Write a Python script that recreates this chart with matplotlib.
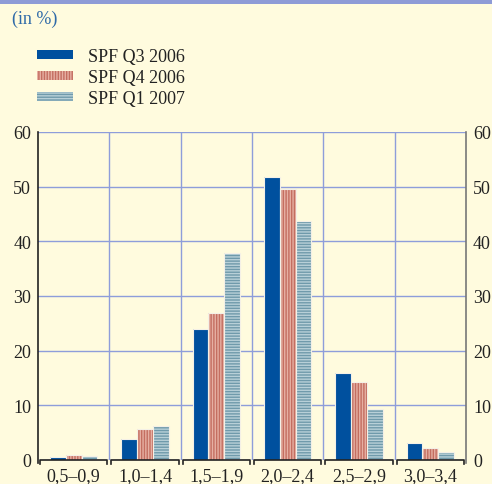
import matplotlib.pyplot as plt
import numpy as np
from matplotlib.patches import Patch, Rectangle

plt.rcParams['font.family'] = ['Liberation Serif', 'DejaVu Serif']
plt.rcParams['hatch.linewidth'] = 1.0

categories = ['0,5–0,9', '1,0–1,4', '1,5–1,9', '2,0–2,4', '2,5–2,9', '3,0–3,4']
series_names = ['SPF Q3 2006', 'SPF Q4 2006', 'SPF Q1 2007']
q3_2006 = [0.6, 3.8, 24.0, 51.8, 15.9, 3.2]
q4_2006 = [0.9, 5.7, 26.8, 49.6, 14.3, 2.2]
q1_2007 = [0.7, 6.3, 37.9, 43.7, 9.3, 1.4]
y_ticks = [0, 10, 20, 30, 40, 50, 60]

bg = '#FFFBDE'
grid_col = '#8E9DDA'
face_cols = ['#00509E', '#C46E60', '#6F9AAB']
stripe_cols = [None, '#E6B0A3', '#B8D0D8']
hatches = [None, '||||||', '------']
fs = 13

fig = plt.figure(figsize=(4.92, 4.85), dpi=100, facecolor=bg)
fig.patches.append(Rectangle((0, 1 - 5 / 485), 1, 5 / 485, transform=fig.transFigure,
                             facecolor='#8E9BD6', edgecolor='none'))
fig.text(12 / 492, 1 - 19 / 485, '(in %)', color='#2F6AA8', fontsize=fs, va='center')

ax = fig.add_axes([38 / 492, 24 / 485, 428 / 492, 328 / 485])
ax.set_facecolor(bg)

x = np.arange(len(categories))
w = 0.222
data = [q3_2006, q4_2006, q1_2007]
for i, vals in enumerate(data):
    pos = x + (i - 1) * w
    ax.bar(pos, vals, w, color=face_cols[i], edgecolor='none', zorder=3)
    if hatches[i]:
        ax.bar(pos, vals, w, color='none', edgecolor=stripe_cols[i], hatch=hatches[i],
               linewidth=0, zorder=4)
    ax.bar(pos, vals, w, color='none', edgecolor='#F4F0E6', linewidth=0.8, zorder=5)

ax.set_xlim(-0.5, len(categories) - 0.5)
ax.set_ylim(0, 60)
ax.set_yticks(y_ticks)
ax.set_xticks(x)
ax.set_xticklabels(categories)
ax.tick_params(axis='x', length=0, pad=5, labelsize=fs, colors='#222222')
ax.tick_params(axis='y', length=0, labelsize=fs, labelcolor='#222222', pad=5,
               left=True, right=True, labelleft=True, labelright=True)
ax.grid(True, axis='y', color=grid_col, linewidth=1, zorder=1)
for b in np.arange(0.5, len(categories) - 1, 1):
    ax.axvline(b, color=grid_col, linewidth=1, zorder=1)

# bracket-style category segments along the bottom axis
xt = ax.get_xaxis_transform()
g = 0.03
d = -4 / 328
for i in x:
    l, r = i - 0.5 + g, i + 0.5 - g
    ax.plot([l, l, r, r], [d, 0, 0, d], color='#222222', linewidth=1.2,
            transform=xt, clip_on=False, zorder=6)

ax.spines['left'].set_color('#222222')
ax.spines['left'].set_linewidth(1.2)
ax.spines['left'].set_bounds(-0.6, 60)
ax.spines['right'].set_color('#777777')
ax.spines['right'].set_linewidth(1.2)
ax.spines['right'].set_bounds(-0.6, 60)
ax.spines['top'].set_visible(False)
ax.spines['bottom'].set_visible(False)

handles = []
for i in range(3):
    if hatches[i]:
        handles.append(Patch(facecolor=face_cols[i], edgecolor=stripe_cols[i],
                             hatch=hatches[i], linewidth=0))
    else:
        handles.append(Patch(facecolor=face_cols[i], edgecolor='none'))
fig.legend(handles, series_names, loc='upper left', bbox_to_anchor=(37 / 492, 1 - 49 / 485),
           frameon=False, fontsize=fs, handlelength=2.0, handleheight=0.35,
           handletextpad=0.85, labelspacing=0.22, borderpad=0, borderaxespad=0,
           labelcolor='#222222')

fig.savefig('out.png', dpi=100, facecolor=bg)
